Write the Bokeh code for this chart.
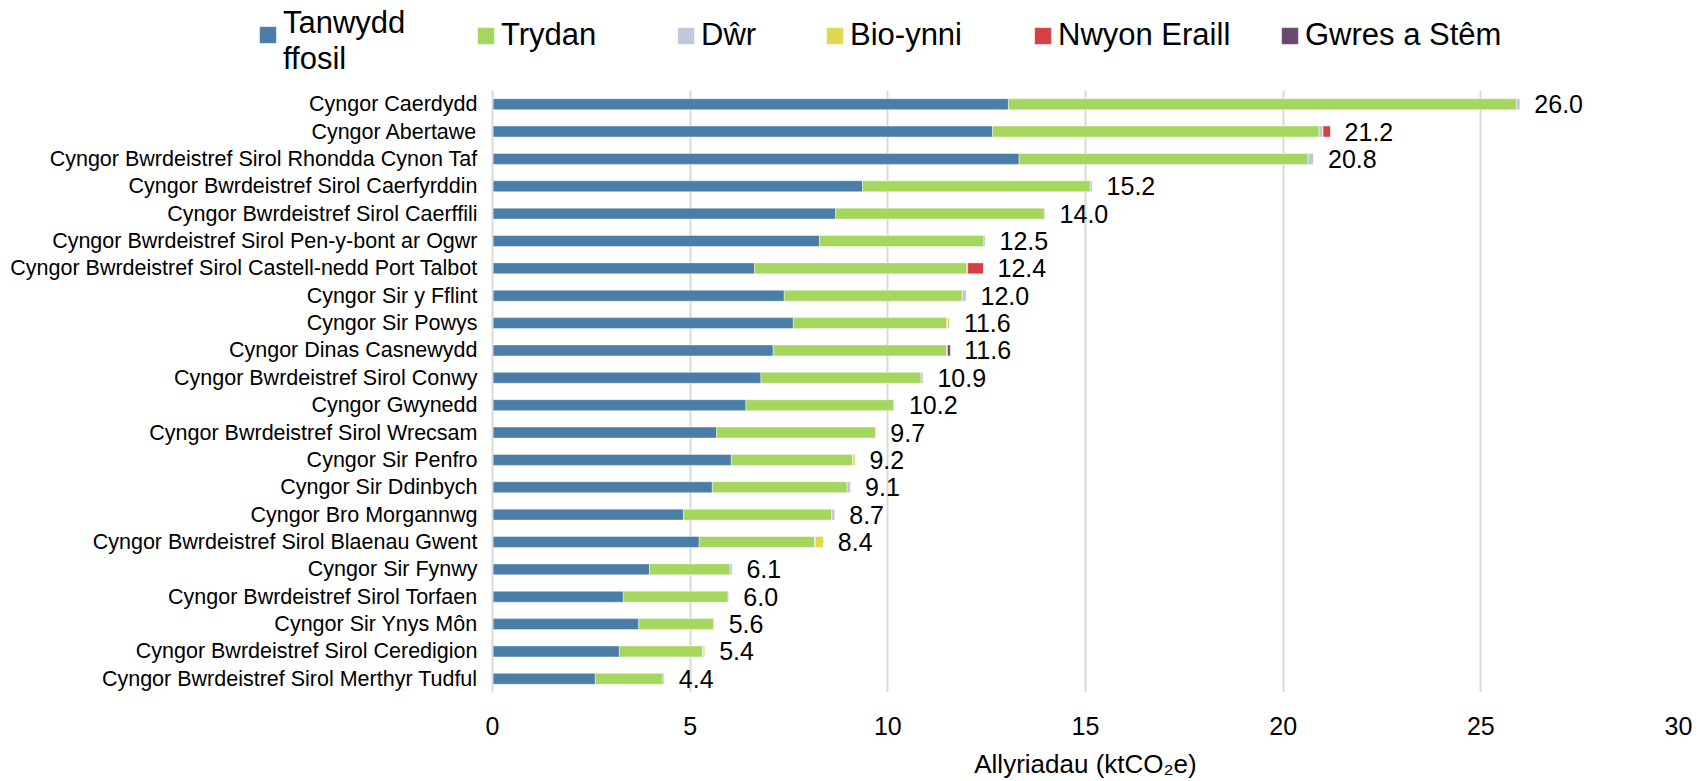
from bokeh.plotting import figure
from bokeh.layouts import column
from bokeh.models import (ColumnDataSource, FactorRange, Legend, LegendItem,
                          Range1d, FixedTicker)
from bokeh.embed import file_html
from bokeh.resources import INLINE
from bokeh.core.properties import value

# ---------------- data ----------------
councils = [
    "Cyngor Caerdydd",
    "Cyngor Abertawe",
    "Cyngor Bwrdeistref Sirol Rhondda Cynon Taf",
    "Cyngor Bwrdeistref Sirol Caerfyrddin",
    "Cyngor Bwrdeistref Sirol Caerffili",
    "Cyngor Bwrdeistref Sirol Pen-y-bont ar Ogwr",
    "Cyngor Bwrdeistref Sirol Castell-nedd Port Talbot",
    "Cyngor Sir y Fflint",
    "Cyngor Sir Powys",
    "Cyngor Dinas Casnewydd",
    "Cyngor Bwrdeistref Sirol Conwy",
    "Cyngor Gwynedd",
    "Cyngor Bwrdeistref Sirol Wrecsam",
    "Cyngor Sir Penfro",
    "Cyngor Sir Ddinbych",
    "Cyngor Bro Morgannwg",
    "Cyngor Bwrdeistref Sirol Blaenau Gwent",
    "Cyngor Sir Fynwy",
    "Cyngor Bwrdeistref Sirol Torfaen",
    "Cyngor Sir Ynys Môn",
    "Cyngor Bwrdeistref Sirol Ceredigion",
    "Cyngor Bwrdeistref Sirol Merthyr Tudful",
]
tanwydd_ffosil = [13.05, 12.65, 13.32, 9.36, 8.68, 8.27, 6.63, 7.38, 7.61, 7.10, 6.79,
                  6.41, 5.67, 6.04, 5.56, 4.83, 5.23, 3.97, 3.31, 3.70, 3.21, 2.60]
trydan = [12.85, 8.26, 7.31, 5.76, 5.28, 4.16, 5.37, 4.50, 3.88, 4.39, 4.05,
          3.74, 4.02, 3.07, 3.41, 3.75, 2.92, 2.04, 2.65, 1.89, 2.10, 1.71]
dwr = [0.10, 0.10, 0.15, 0.06, 0.03, 0.04, 0.02, 0.11, 0.02, 0.02, 0.06,
       0.03, 0.02, 0.01, 0.10, 0.09, 0.02, 0.06, 0.03, 0.03, 0.02, 0.05]
bio_ynni = [0.0, 0.0, 0.0, 0.0, 0.0, 0.0, 0.0, 0.0, 0.06, 0.0, 0.0,
            0.0, 0.0, 0.06, 0.0, 0.0, 0.21, 0.0, 0.0, 0.0, 0.05, 0.0]
nwyon_eraill = [0.0, 0.19, 0.0, 0.0, 0.0, 0.0, 0.40, 0.0, 0.0, 0.0, 0.0,
                0.0, 0.0, 0.0, 0.0, 0.0, 0.0, 0.0, 0.0, 0.0, 0.0, 0.0]
gwres_a_stem = [0.0, 0.0, 0.0, 0.0, 0.0, 0.0, 0.0, 0.0, 0.0, 0.07, 0.0,
                0.0, 0.0, 0.0, 0.0, 0.0, 0.0, 0.0, 0.0, 0.0, 0.0, 0.0]

series_keys = ["tanwydd_ffosil", "trydan", "dwr", "bio_ynni", "nwyon_eraill", "gwres_a_stem"]
series_labels = ["Tanwydd\nffosil", "Trydan", "Dŵr", "Bio-ynni", "Nwyon Eraill", "Gwres a Stêm"]
series_colors = ["#4A7EA8", "#A5D65E", "#BFC9DD", "#E2D850", "#D64045", "#6A4A6C"]
x_ticks = [0, 5, 10, 15, 20, 25, 30]
x_title = "Allyriadau (ktCO₂e)"

series_values = [tanwydd_ffosil, trydan, dwr, bio_ynni, nwyon_eraill, gwres_a_stem]
totals = [sum(vals) for vals in zip(*series_values)]
total_labels = [f"{t:.1f}" for t in totals]

data = dict(council=councils, total=totals, total_label=total_labels)
for k, vals in zip(series_keys, series_values):
    data[k] = vals
source = ColumnDataSource(data)

FONT = "Liberation Sans"
W = 1704
LEG_H = 90
MAIN_H = 781 - LEG_H

# ---------------- main figure ----------------
p = figure(width=W, height=MAIN_H,
           y_range=FactorRange(*reversed(councils)),
           x_range=Range1d(0, 30),
           output_backend="svg", toolbar_location=None,
           min_border_left=492, min_border_right=26,
           min_border_top=0, min_border_bottom=89)

renderers = p.hbar_stack(series_keys, y="council", height=0.4, color=series_colors,
                         source=source, line_color="white", line_width=0.6, line_alpha=0.7)

p.text(x="total", y="council", text="total_label", source=source,
       x_offset=14, text_baseline="middle", text_align="left",
       text_font=value(FONT), text_font_size="25px", text_color="black")

p.xaxis.ticker = FixedTicker(ticks=x_ticks)
p.xaxis.axis_line_color = None
p.xaxis.major_tick_line_color = None
p.xaxis.minor_tick_line_color = None
p.xaxis.major_label_text_font = FONT
p.xaxis.major_label_text_font_size = "25px"
p.xaxis.major_label_text_color = "black"
p.xaxis.major_label_standoff = 18
p.xaxis.axis_label = x_title
p.xaxis.axis_label_text_font = FONT
p.xaxis.axis_label_text_font_size = "26px"
p.xaxis.axis_label_text_font_style = "normal"
p.xaxis.axis_label_text_color = "black"
p.xaxis.axis_label_standoff = 11

p.yaxis.axis_line_color = "#d9d9d9"
p.yaxis.axis_line_width = 2
p.yaxis.major_tick_line_color = None
p.yaxis.minor_tick_line_color = None
p.yaxis.major_label_text_font = FONT
p.yaxis.major_label_text_font_size = "21.5px"
p.yaxis.major_label_text_color = "black"
p.yaxis.major_label_standoff = 9

p.xgrid.grid_line_color = "#d9d9d9"
p.xgrid.grid_line_width = 2
p.ygrid.grid_line_color = None
p.outline_line_color = None

# ---------------- legend strip ----------------
lg = figure(width=W, height=LEG_H, x_range=Range1d(0, 1), y_range=Range1d(0, 1),
            output_backend="svg", toolbar_location=None,
            x_axis_type=None, y_axis_type=None,
            min_border_left=0, min_border_right=0, min_border_top=0, min_border_bottom=0)
lg.frame_align = False
lg.xgrid.visible = False
lg.ygrid.visible = False
lg.outline_line_color = None


def make_legend(renderer, label, loc, glyph_w=21, standoff=5):
    return Legend(items=[LegendItem(label=label, renderers=[renderer])], location=loc,
                  orientation="horizontal", glyph_width=glyph_w, glyph_height=21,
                  label_standoff=standoff, padding=0, margin=0, spacing=0,
                  border_line_color=None, background_fill_alpha=0,
                  label_text_font=FONT, label_text_font_size="31px",
                  label_text_color="black")


legend_x = [257, 475, 675, 824, 1032, 1279]
ROW_Y = 37
for i, (c, lab, lx) in enumerate(zip(series_colors, series_labels, legend_x)):
    # zero-size proxy glyph, only used to draw the legend swatch
    proxy = lg.hbar(y=[0], left=[0], right=[0], height=0, color=c,
                    line_color="white", line_width=0.6, line_alpha=0.7)
    if "\n" in lab:
        # two-line entry: swatch aligned with the other swatches, text block set apart
        lg.add_layout(make_legend(proxy, "", (lx, ROW_Y + 8)))
        lg.add_layout(make_legend(proxy, lab, (lx + 26, 13), glyph_w=0, standoff=0))
    else:
        lg.add_layout(make_legend(proxy, lab, (lx, ROW_Y)))

layout = column(lg, p, spacing=0)
open("out.html", "w").write(file_html(layout, INLINE))
